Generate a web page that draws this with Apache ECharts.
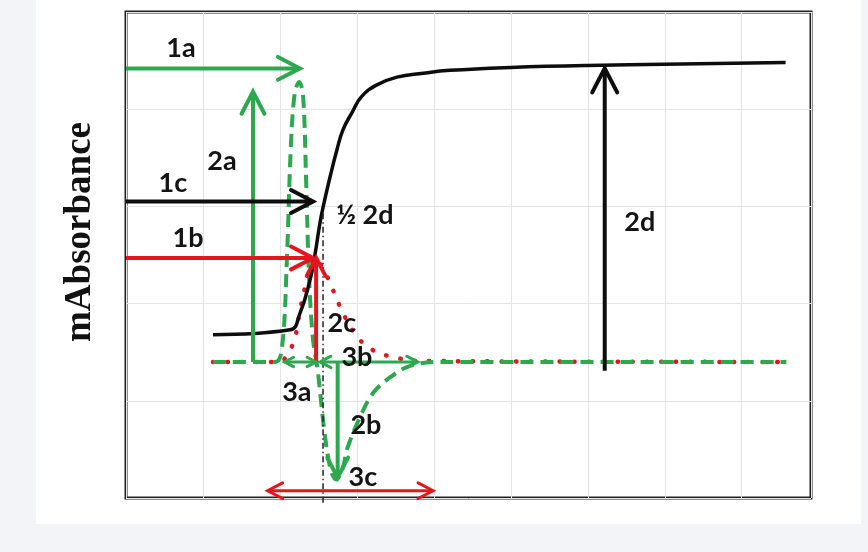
<!DOCTYPE html>
<html>
<head>
<meta charset="utf-8">
<script src="https://cdn.jsdelivr.net/npm/echarts@6/dist/echarts.min.js"></script>
<style>html,body{margin:0;padding:0;background:#f3f4f8;}#chart{width:868px;height:552px;}</style>
</head>
<body>
<div id="chart"></div>
<script>
// ---- Curves (x in time units, y in mAbsorbance units) ----
const sigmoidCurve = [
  [1.13,1.68],[2.13,1.73],[2.26,1.90],[2.39,2.24],[2.45,2.48],[2.52,2.83],[2.56,2.99],[2.65,3.30],
  [2.74,3.58],[2.82,3.79],[2.94,3.97],[3.06,4.13],[3.26,4.25],[3.52,4.33],[3.86,4.37],[4.21,4.40],
  [5.00,4.43],[5.99,4.45],[8.57,4.48]
];
const secondDerivCurve = [
  [1.13,1.40],[1.94,1.40],[2.03,1.57],[2.09,2.45],[2.14,3.58],[2.19,4.15],[2.25,4.28],[2.30,4.15],
  [2.34,3.27],[2.38,2.24],[2.43,1.63],[2.49,1.32],[2.58,0.67],[2.66,0.29],[2.73,0.19],[2.81,0.29],
  [2.88,0.52],[3.04,0.83],[3.21,1.08],[3.43,1.24],[3.69,1.36],[4.08,1.40],[8.58,1.40]
];
const firstDerivCurve = [
  [1.13,1.40],[2.00,1.40],[2.09,1.47],[2.19,1.63],[2.26,1.93],[2.35,2.24],[2.45,2.47],[2.58,2.33],
  [2.69,2.14],[2.82,1.90],[3.00,1.66],[3.21,1.52],[3.47,1.45],[3.82,1.41],[8.58,1.40]
];
const inflectionLine = [[2.56,2.93],[2.56,-0.05]];

// ---- Arrows: [x1, y1, x2, y2] ----
const arrow1a = [0, 4.42, 2.26, 4.42];
const arrow2a = [1.65, 1.40, 1.65, 4.18];
const arrow1c = [0, 3.05, 2.43, 3.05];
const arrow1b = [0, 2.47, 2.43, 2.47];
const arrow2c = [2.47, 1.40, 2.47, 2.47];
const arrow2d = [6.22, 1.31, 6.22, 4.42];
const arrow2b = [2.75, 1.40, 2.75, 0.21];
const arrow3a = [2.06, 1.40, 2.47, 1.40];
const arrow3b = [2.52, 1.40, 3.79, 1.40];
const arrow3c = [1.84, 0.075, 3.99, 0.075];

// ---- Annotation labels ----
const labelTexts = ['1a','2a','1c','1b','½ 2d','2d','2c','3b','3a','2b','3c'];
const labelX =     [0.714,1.247,0.61,0.805,3.104,6.675,2.805,3.00,2.22,3.117,3.078];
const labelY =     [4.63,3.467,3.24,2.675,2.91,2.84,1.80,1.45,1.09,0.75,0.216];

const GREEN = '#2ea84f', RED = '#e3161d', BLACK = '#0d0d0d';

function arrowSeries(seg, color, both, head, width) {
  return {
    type: 'custom', coordinateSystem: 'cartesian2d', clip: false, z: 6, silent: true,
    encode: { x: [0, 2], y: [1, 3] },
    data: [seg],
    renderItem: function (params, api) {
      const a = api.coord([api.value(0), api.value(1)]);
      const b = api.coord([api.value(2), api.value(3)]);
      const children = [{ type: 'line', shape: { x1: a[0], y1: a[1], x2: b[0], y2: b[1] },
        style: { stroke: color, lineWidth: width, lineCap: 'butt' } }];
      function addHead(tip, from) {
        const dx = tip[0] - from[0], dy = tip[1] - from[1];
        const L = Math.hypot(dx, dy) || 1; const ux = dx / L, uy = dy / L; const px = -uy, py = ux;
        children.push({ type: 'polyline', shape: { points: [
          [tip[0] - ux * head + px * head * 0.52, tip[1] - uy * head + py * head * 0.52],
          [tip[0], tip[1]],
          [tip[0] - ux * head - px * head * 0.52, tip[1] - uy * head - py * head * 0.52]
        ] }, style: { stroke: color, fill: 'none', lineWidth: width, lineJoin: 'miter', lineCap: 'round' } });
      }
      addHead(b, a);
      if (both) addHead(a, b);
      return { type: 'group', children: children };
    }
  };
}

const chart = echarts.init(document.getElementById('chart'));
chart.setOption({
  backgroundColor: '#f3f4f8',
  animation: false,
  graphic: [
    { type: 'rect', left: 36, top: 0, shape: { width: 825, height: 524 }, style: { fill: '#ffffff' }, z: -10 },
    { type: 'text', x: 80, y: 232, rotation: Math.PI / 2, z: 10,
      style: { text: 'mAbsorbance', fontFamily: 'Liberation Serif', fontWeight: 'bold', fontSize: 37,
               fill: '#111', align: 'center', verticalAlign: 'middle' } }
  ],
  grid: { left: 126, right: 57, top: 12, bottom: 54, show: true, borderColor: '#222', borderWidth: 3, backgroundColor: 'transparent' },
  xAxis: { type: 'value', min: 0, max: 8.9, interval: 1,
    axisLine: { show: false }, axisTick: { show: false }, axisLabel: { show: false },
    splitLine: { show: true, lineStyle: { color: '#e4e4e4', width: 1 } } },
  yAxis: { type: 'value', min: 0, max: 5, interval: 1,
    axisLine: { show: false }, axisTick: { show: false }, axisLabel: { show: false },
    splitLine: { show: true, lineStyle: { color: '#e4e4e4', width: 1 } } },
  series: [
    { type: 'line', data: firstDerivCurve, smooth: 0.35, showSymbol: false, z: 3,
      lineStyle: { color: RED, width: 4.5, type: [0.5, 14], cap: 'round' } },
    { type: 'line', data: secondDerivCurve, smooth: 0.35, showSymbol: false, z: 4,
      lineStyle: { color: GREEN, width: 4, type: [13, 7] } },
    { type: 'line', data: sigmoidCurve, smooth: 0.45, showSymbol: false, z: 5,
      lineStyle: { color: BLACK, width: 3.5 } },
    { type: 'line', data: inflectionLine, showSymbol: false, clip: false, z: 5,
      lineStyle: { color: '#222', width: 1.5, type: [6, 3, 1.5, 3] } },
    arrowSeries(arrow1a, GREEN, false, 22, 4),
    arrowSeries(arrow2a, GREEN, false, 22, 4),
    arrowSeries(arrow1c, BLACK, false, 22, 4),
    arrowSeries(arrow1b, RED, false, 22, 4),
    arrowSeries(arrow2c, RED, false, 18, 4),
    arrowSeries(arrow2d, BLACK, false, 24, 4),
    arrowSeries(arrow2b, GREEN, false, 20, 4),
    arrowSeries(arrow3a, GREEN, true, 9, 3),
    arrowSeries(arrow3b, GREEN, true, 11, 3),
    arrowSeries(arrow3c, RED, true, 15, 3),
    {
      type: 'custom', coordinateSystem: 'cartesian2d', clip: false, z: 8, silent: true,
      encode: { x: 0, y: 1 },
      data: labelTexts.map(function (t, i) { return [labelX[i], labelY[i], t]; }),
      renderItem: function (params, api) {
        const p = api.coord([api.value(0), api.value(1)]);
        return { type: 'text', x: p[0], y: p[1],
          style: { text: labelTexts[params.dataIndex], fontFamily: 'Lato', fontWeight: 'bold', fontSize: 27,
                   fill: '#141414', align: 'center', verticalAlign: 'middle' } };
      }
    }
  ]
});
</script>
</body>
</html>
